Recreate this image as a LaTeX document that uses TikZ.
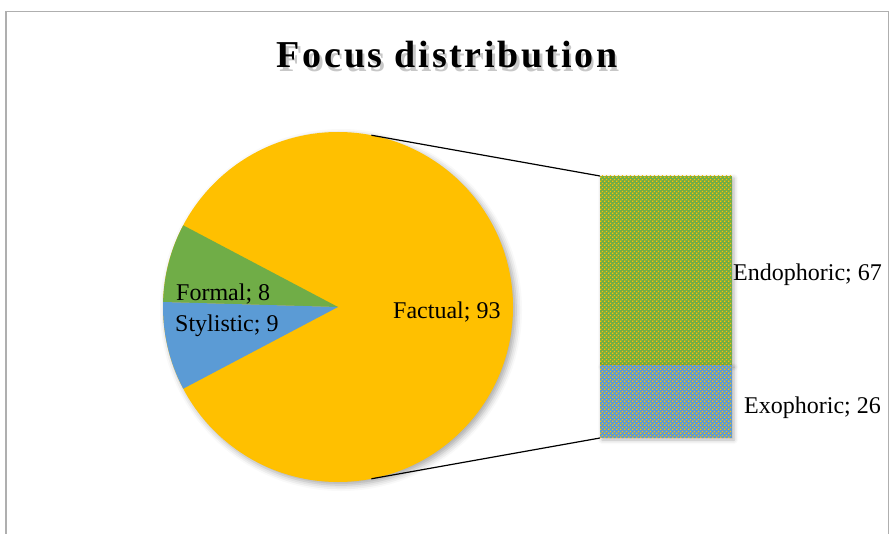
\documentclass[tikz,border=0pt]{standalone}
\usepackage{fontspec}
\setmainfont{Liberation Serif}
\newfontfamily\titlefont[LetterSpace=7.2]{Liberation Serif}
\usetikzlibrary{patterns,shadows.blur}
\definecolor{pieY}{RGB}{255,192,0}
\definecolor{pieG}{RGB}{112,173,71}
\definecolor{pieB}{RGB}{91,155,213}
\definecolor{frameG}{RGB}{175,175,175}
\pgfdeclarepatternformonly{ydots}{\pgfqpoint{0pt}{0pt}}{\pgfqpoint{4.2pt}{4.2pt}}{\pgfqpoint{4.2pt}{4.2pt}}{%
  \pgfpathrectangle{\pgfqpoint{0pt}{0pt}}{\pgfqpoint{1.6pt}{1.6pt}}%
  \pgfpathrectangle{\pgfqpoint{2.1pt}{2.1pt}}{\pgfqpoint{1.6pt}{1.6pt}}%
  \pgfusepath{fill}}
\begin{document}
\begin{tikzpicture}[x=1pt,y=-1pt,
  lbl/.style={font=\fontsize{24}{28}\selectfont, inner sep=0pt, anchor=base west},
  ttl/.style={font=\titlefont\bfseries\fontsize{38}{44}\selectfont, inner sep=0pt},
  conn/.style={black, line width=1.2pt},
  barbox/.style={minimum width=132pt, inner sep=0pt, outer sep=0pt, anchor=north west,
    blur shadow={shadow xshift=2pt, shadow yshift=-2pt, shadow blur radius=4pt, shadow opacity=30}}]
\useasboundingbox (0,0) rectangle (890,534);
\draw[frameG, line width=1.5pt] (6,534) -- (6,11.5) -- (888.5,11.5) -- (888.5,534);
% title with soft shadow
\node[ttl, text=black, opacity=0.22] (titleshadow) at (449.5,58.5) {Focus distribution};
\node[ttl] (title) at (447,55) {Focus distribution};
% pie
\node[circle, minimum size=350pt, inner sep=0pt, outer sep=0pt] (pie) at (338,307) {};
\fill[pieY, blur shadow={shadow xshift=3pt, shadow yshift=-3pt, shadow blur radius=6pt, shadow opacity=35}] (pie.center) circle[radius=175pt];
\begin{scope}[shift={(pie.center)}, y=1pt]
  \fill[pieG] (0,0) -- (152.18:175pt) arc[start angle=152.18, end angle=178.36, radius=175pt] -- cycle;
  \fill[pieB] (0,0) -- (178.36:175pt) arc[start angle=178.36, end angle=207.82, radius=175pt] -- cycle;
\end{scope}
% bar of pie
\node[barbox, minimum height=189pt, fill=pieG,
  postaction={pattern=ydots, pattern color=pieY}] (endo) at (600,176) {};
\node[barbox, minimum height=73pt, fill=pieB,
  postaction={pattern=ydots, pattern color=pieY}] (exo) at (endo.south west) {};
% connectors
\draw[conn] (pie.79.5) -- (endo.north west);
\draw[conn] (pie.-79.5) -- (exo.south west);
% labels
\node[lbl] (formal) at (176,300) {Formal; 8};
\node[lbl] (stylistic) at (175,331) {Stylistic; 9};
\node[lbl] (factual) at (393,318) {Factual; 93};
\node[lbl] (endolbl) at (733,280) {Endophoric; 67};
\node[lbl] (exolbl) at (744,413) {Exophoric; 26};
\end{tikzpicture}
\end{document}
